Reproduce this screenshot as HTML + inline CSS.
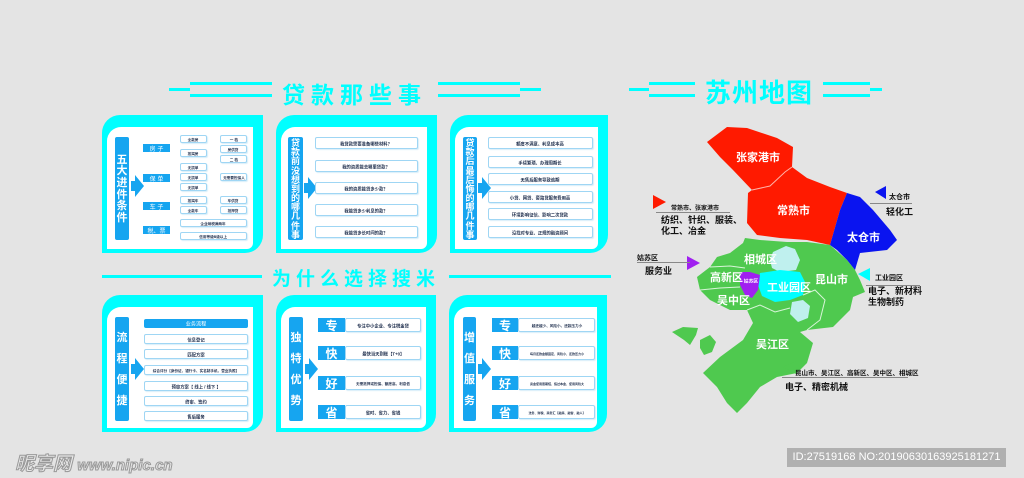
<!DOCTYPE html>
<html><head><meta charset="utf-8">
<style>
*{margin:0;padding:0;box-sizing:border-box}
body{width:1024px;height:478px;background:#e4e4e4;position:relative;overflow:hidden;font-family:"Liberation Sans","Noto Sans CJK SC",sans-serif}
.a{position:absolute}
.ln{position:absolute;height:3px;background:#00ffff}
.panel{position:absolute;background:#00ffff;border-radius:18px 0 18px 0}
.panel .in{position:absolute;left:5px;top:12px;right:10px;bottom:4px;background:#fff;border-radius:14px 0 6px 0}
.bar{position:absolute;background:#16a5f0;color:#fff;font-weight:bold;border-radius:2px;display:flex;flex-direction:column;align-items:center;justify-content:center;line-height:1.05;font-family:"Noto Sans CJK SC",sans-serif;overflow:hidden}
.bar i{font-style:normal;display:block;height:9.2px;line-height:9.2px}
.arr{position:absolute;width:0;height:0;border-top:11px solid transparent;border-bottom:11px solid transparent;border-left:9px solid #16a5f0}
.arr::before{content:"";position:absolute;left:-13px;top:-5px;width:5px;height:10px;background:#16a5f0}
.bx{position:absolute;border:1px solid #9fd6f4;border-radius:2px;background:#fff;font-size:6px;color:#1b2b4a;display:flex;align-items:center;justify-content:center;white-space:nowrap;font-weight:bold;box-shadow:1px 1px 1px #d8eef9;overflow:visible}
.bx span{display:inline-block;transform:scale(0.72);transform-origin:center}
.bx span.t{transform:scale(0.6)}
.cat{position:absolute;background:#16a5f0;color:#fff;font-size:6px;display:flex;align-items:center;justify-content:center}
.lb{position:absolute;background:#16a5f0;color:#fff;font-size:12px;font-weight:bold;display:flex;align-items:center;justify-content:center}
.title{position:absolute;color:#00ffff;font-weight:bold;white-space:nowrap}
.mt{position:absolute;color:#fff;font-weight:bold;font-size:11px;white-space:nowrap}
.an{position:absolute;color:#111;font-weight:bold;white-space:nowrap}
</style></head><body>

<div class="ln" style="left:190px;top:82px;width:82px"></div>
<div class="ln" style="left:169px;top:88px;width:21px"></div>
<div class="ln" style="left:190px;top:94px;width:82px"></div>
<div class="title" style="left:282px;top:76px;font-size:23px;letter-spacing:6px">贷款那些事</div>
<div class="ln" style="left:438px;top:82px;width:82px"></div>
<div class="ln" style="left:520px;top:88px;width:21px"></div>
<div class="ln" style="left:438px;top:94px;width:82px"></div>

<div class="ln" style="left:649px;top:82px;width:46px"></div>
<div class="ln" style="left:629px;top:88px;width:20px"></div>
<div class="ln" style="left:649px;top:94px;width:46px"></div>
<div class="title" style="left:705px;top:73px;font-size:26px;letter-spacing:1px">苏州地图</div>
<div class="ln" style="left:823px;top:82px;width:47px"></div>
<div class="ln" style="left:870px;top:88px;width:12px"></div>
<div class="ln" style="left:823px;top:94px;width:47px"></div>

<div class="ln" style="left:102px;top:275px;width:160px"></div>
<div class="title" style="left:272px;top:264px;font-size:19px;letter-spacing:5px">为什么选择搜米</div>
<div class="ln" style="left:449px;top:275px;width:162px"></div>

<!-- panel 1 -->
<div class="panel" style="left:102px;top:115px;width:161px;height:138px"><div class="in"></div></div>
<div class="bar" style="left:115px;top:137px;width:14px;height:103px;font-size:11px">五<br>大<br>进<br>件<br>条<br>件</div>
<div class="arr" style="left:135px;top:175px"></div>
<div class="cat" style="left:143px;top:144px;width:27px;height:8px">房 子</div>
<div class="cat" style="left:143px;top:174px;width:27px;height:8px">保 单</div>
<div class="cat" style="left:143px;top:202px;width:27px;height:8px">车 子</div>
<div class="cat" style="left:143px;top:226px;width:27px;height:8px">税、票</div>
<div class="bx" style="left:180px;top:135px;width:27px;height:8px"><span class="t">全款房</span></div>
<div class="bx" style="left:180px;top:149px;width:27px;height:8px"><span class="t">按揭房</span></div>
<div class="bx" style="left:180px;top:163px;width:27px;height:8px"><span class="t">无损单</span></div>
<div class="bx" style="left:180px;top:173px;width:27px;height:8px"><span class="t">无损单</span></div>
<div class="bx" style="left:180px;top:183px;width:27px;height:8px"><span class="t">无损单</span></div>
<div class="bx" style="left:180px;top:196px;width:27px;height:8px"><span class="t">按揭车</span></div>
<div class="bx" style="left:180px;top:206px;width:27px;height:8px"><span class="t">全款车</span></div>
<div class="bx" style="left:220px;top:135px;width:27px;height:8px"><span class="t">一 档</span></div>
<div class="bx" style="left:220px;top:145px;width:27px;height:8px"><span class="t">房供贷</span></div>
<div class="bx" style="left:220px;top:155px;width:27px;height:8px"><span class="t">二 档</span></div>
<div class="bx" style="left:220px;top:173px;width:27px;height:8px"><span class="t">无需要担保人</span></div>
<div class="bx" style="left:220px;top:196px;width:27px;height:8px"><span class="t">车供贷</span></div>
<div class="bx" style="left:220px;top:206px;width:27px;height:8px"><span class="t">抵押贷</span></div>
<div class="bx" style="left:180px;top:219px;width:67px;height:8px"><span class="t">企业纳税满两年</span></div>
<div class="bx" style="left:180px;top:232px;width:67px;height:8px"><span class="t">信用等级B级以上</span></div>

<!-- panel 2 -->
<div class="panel" style="left:276px;top:115px;width:161px;height:138px"><div class="in"></div></div>
<div class="bar" style="left:288px;top:137px;width:15px;height:103px;font-size:9px"><i>贷</i><i>款</i><i>前</i><i>没</i><i>想</i><i>到</i><i>的</i><i>哪</i><i>几</i><i>件</i><i>事</i></div>
<div class="arr" style="left:308px;top:177px"></div>
<div class="bx" style="left:315px;top:137px;width:103px;height:12px"><span>我贷款需要准备哪些材料？</span></div>
<div class="bx" style="left:315px;top:160px;width:103px;height:12px"><span>我的资质能去哪里贷款？</span></div>
<div class="bx" style="left:315px;top:182px;width:103px;height:12px"><span>我的资质能贷多少款？</span></div>
<div class="bx" style="left:315px;top:204px;width:103px;height:12px"><span>我能贷多少利息的款？</span></div>
<div class="bx" style="left:315px;top:226px;width:103px;height:12px"><span>我能贷多长时间的款？</span></div>

<!-- panel 3 -->
<div class="panel" style="left:450px;top:115px;width:158px;height:138px"><div class="in"></div></div>
<div class="bar" style="left:463px;top:137px;width:14px;height:103px;font-size:9px"><i>贷</i><i>款</i><i>后</i><i>最</i><i>后</i><i>悔</i><i>的</i><i>哪</i><i>几</i><i>件</i><i>事</i></div>
<div class="arr" style="left:482px;top:177px"></div>
<div class="bx" style="left:488px;top:137px;width:105px;height:12px"><span>额度不满意、利息成本高</span></div>
<div class="bx" style="left:488px;top:156px;width:105px;height:12px"><span>手续繁琐、办理周期长</span></div>
<div class="bx" style="left:488px;top:173px;width:105px;height:12px"><span>无售后服务导致逾期</span></div>
<div class="bx" style="left:488px;top:191px;width:105px;height:12px"><span>小贷、网贷、套路贷服务费用高</span></div>
<div class="bx" style="left:488px;top:208px;width:105px;height:12px"><span>环境影响征信、影响二次贷款</span></div>
<div class="bx" style="left:488px;top:226px;width:105px;height:12px"><span>没找对专业、正规的融资顾问</span></div>

<!-- panel 4 -->
<div class="panel" style="left:102px;top:295px;width:161px;height:137px"><div class="in"></div></div>
<div class="bar" style="left:115px;top:317px;width:14px;height:104px;font-size:11px;line-height:1.9">流<br>程<br>便<br>捷</div>
<div class="arr" style="left:135px;top:358px"></div>
<div class="cat" style="left:144px;top:319px;width:104px;height:9px;border-radius:2px"><span style="display:inline-block;transform:scale(.85)">业务流程</span></div>
<div class="bx" style="left:144px;top:334px;width:104px;height:10px"><span>信息登记</span></div>
<div class="bx" style="left:144px;top:349px;width:104px;height:10px"><span>匹配方案</span></div>
<div class="bx" style="left:144px;top:365px;width:104px;height:10px"><span class="t">综合评分【身份证、银行卡、实名制手机、营业执照】</span></div>
<div class="bx" style="left:144px;top:381px;width:104px;height:10px"><span>预审方案【 线上 / 线下 】</span></div>
<div class="bx" style="left:144px;top:396px;width:104px;height:10px"><span>终审、签约</span></div>
<div class="bx" style="left:144px;top:411px;width:104px;height:10px"><span>售后服务</span></div>

<!-- panel 5 -->
<div class="panel" style="left:276px;top:295px;width:160px;height:137px"><div class="in"></div></div>
<div class="bar" style="left:289px;top:317px;width:14px;height:104px;font-size:11px;line-height:1.9">独<br>特<br>优<br>势</div>
<div class="arr" style="left:309px;top:358px"></div>
<div class="lb" style="left:318px;top:318px;width:27px;height:14px">专</div><div class="bx" style="left:345px;top:318px;width:76px;height:14px"><span>专注中小企业、专注税金贷</span></div>
<div class="lb" style="left:318px;top:346px;width:27px;height:14px">快</div><div class="bx" style="left:345px;top:346px;width:76px;height:14px"><span>最快当天到账【T+0】</span></div>
<div class="lb" style="left:318px;top:376px;width:27px;height:14px">好</div><div class="bx" style="left:345px;top:376px;width:76px;height:14px"><span class="t">无需抵押或担保、额度高、利息低</span></div>
<div class="lb" style="left:318px;top:405px;width:27px;height:14px">省</div><div class="bx" style="left:345px;top:405px;width:76px;height:14px"><span>省时、省力、省钱</span></div>

<!-- panel 6 -->
<div class="panel" style="left:449px;top:295px;width:158px;height:137px"><div class="in"></div></div>
<div class="bar" style="left:463px;top:317px;width:13px;height:104px;font-size:11px;line-height:1.9">增<br>值<br>服<br>务</div>
<div class="arr" style="left:482px;top:358px"></div>
<div class="lb" style="left:492px;top:318px;width:26px;height:14px">专</div><div class="bx" style="left:518px;top:318px;width:77px;height:14px"><span class="t">越还越少、风险小、还款压力小</span></div>
<div class="lb" style="left:492px;top:346px;width:26px;height:14px">快</div><div class="bx" style="left:518px;top:346px;width:77px;height:14px"><span class="t" style="transform:scale(.5)">每月还款金额固定、风险小、还款压力小</span></div>
<div class="lb" style="left:492px;top:376px;width:26px;height:14px">好</div><div class="bx" style="left:518px;top:376px;width:77px;height:14px"><span class="t" style="transform:scale(.5)">资金使用周期短、假过本金、使用风险大</span></div>
<div class="lb" style="left:492px;top:405px;width:26px;height:14px">省</div><div class="bx" style="left:518px;top:405px;width:77px;height:14px"><span class="t" style="transform:scale(.5)">法务、财税、商务汇【融商、融智、融人】</span></div>

<!-- map -->
<svg class="a" style="left:0;top:0" width="1024" height="478">
<polygon fill="#ff1a00" points="707,142 727,127 747,128 777,138 793,147 792,167 807,178 830,187 847,193 840,210 830,245 807,240 780,238 757,235 747,223 748,193 752,190 733,170 720,157"/>
<polyline fill="none" stroke="#ffb3a8" stroke-width="1" points="752,190 770,186 785,172 792,167"/>
<polygon fill="#0a14f0" points="847,193 860,197 873,210 890,230 897,240 887,250 860,253 855,270 847,260 837,250 830,245 840,210"/>
<polygon fill="#4fc94f" points="745,238 760,240 787,242 807,242 830,245 847,260 855,270 860,280 865,292 853,297 850,310 833,327 807,330 800,332 813,343 807,363 797,373 777,377 760,387 747,403 737,413 727,403 717,387 703,373 720,357 743,340 753,323 747,310 730,310 710,300 700,290 697,277 710,267 717,257 730,253 743,243"/>
<polygon fill="#4fc94f" points="672,332 683,327 698,328 696,335 690,345 684,340"/>
<polygon fill="#4fc94f" points="700,340 710,335 716,342 712,352 704,355 700,348"/>
<polygon fill="#bff0ee" points="773,252 786,246 795,249 800,260 796,270 780,272 772,268 770,260"/>
<polygon fill="#bff0ee" points="792,302 803,300 810,306 808,318 798,322 790,314"/>
<polygon fill="#00ffff" points="760,273 780,270 800,272 805,282 803,295 790,300 775,302 762,296 758,285"/>
<polygon fill="#a020f0" points="740,272 750,272 760,275 758,290 752,298 745,295 740,285"/>
<polyline fill="none" stroke="#d8f5d8" stroke-width="1" points="700,290 720,288 740,287"/>
<polyline fill="none" stroke="#d8f5d8" stroke-width="1" points="710,267 730,266 745,268"/>
<polyline fill="none" stroke="#d8f5d8" stroke-width="1" points="747,310 760,305 775,312 790,308"/>
<polyline fill="none" stroke="#d8f5d8" stroke-width="1" points="803,295 815,290 825,300 820,320 807,330"/>
<polygon fill="#ff1a00" points="653,195 666,202 653,209"/>
<polygon fill="#0a14f0" points="886,186 875,192 886,199"/>
<polygon fill="#a020f0" points="687,256 700,263 687,270"/>
<polygon fill="#00ffff" points="870,268 858,274 870,281"/>
<polygon fill="#4fc94f" points="796,361 783,367 796,374"/>
<g stroke="#888" stroke-width="1">
<line x1="656" y1="212.5" x2="730" y2="212.5"/>
<line x1="870" y1="203.5" x2="912" y2="203.5"/>
<line x1="637" y1="262.5" x2="690" y2="262.5"/>
<line x1="866" y1="285.5" x2="920" y2="285.5"/>
<line x1="782" y1="377.5" x2="908" y2="377.5"/>
</g>
</svg>
<div class="mt" style="left:736px;top:149px">张家港市</div>
<div class="mt" style="left:777px;top:202px">常熟市</div>
<div class="mt" style="left:847px;top:229px">太仓市</div>
<div class="mt" style="left:744px;top:251px">相城区</div>
<div class="mt" style="left:710px;top:269px">高新区</div>
<div class="mt" style="left:717px;top:292px">吴中区</div>
<div class="mt" style="left:767px;top:279px">工业园区</div>
<div class="mt" style="left:815px;top:271px">昆山市</div>
<div class="mt" style="left:756px;top:336px">吴江区</div>
<div class="mt" style="left:742px;top:276px;font-size:6px;transform:scale(.8)">姑苏区</div>

<div class="an" style="left:671px;top:203px;font-size:6px">常熟市、张家港市</div>
<div class="an" style="left:661px;top:215px;font-size:9px;line-height:11px">纺织、针织、服装、<br>化工、冶金</div>
<div class="an" style="left:889px;top:192px;font-size:7px">太仓市</div>
<div class="an" style="left:886px;top:205px;font-size:9px">轻化工</div>
<div class="an" style="left:637px;top:253px;font-size:7px">姑苏区</div>
<div class="an" style="left:645px;top:264px;font-size:9px">服务业</div>
<div class="an" style="left:875px;top:273px;font-size:7px">工业园区</div>
<div class="an" style="left:868px;top:286px;font-size:9px;line-height:11px">电子、新材料<br>生物制药</div>
<div class="an" style="left:795px;top:367px;font-size:6.5px">昆山市、吴江区、高新区、吴中区、相城区</div>
<div class="an" style="left:785px;top:380px;font-size:9px">电子、精密机械</div>

<div class="a" style="left:15px;top:449px;font-size:19px;font-weight:bold;font-style:italic;color:#e8e8e8;-webkit-text-stroke:1px #999;white-space:nowrap">昵享网 <span style="font-size:15px">www.nipic.cn</span></div>
<div class="a" style="left:787px;top:448px;width:219px;height:19px;background:#b0b0b0;color:#fff;font-size:11px;line-height:19px;text-align:center;white-space:nowrap">ID:27519168 NO:20190630163925181271</div>
</body></html>
